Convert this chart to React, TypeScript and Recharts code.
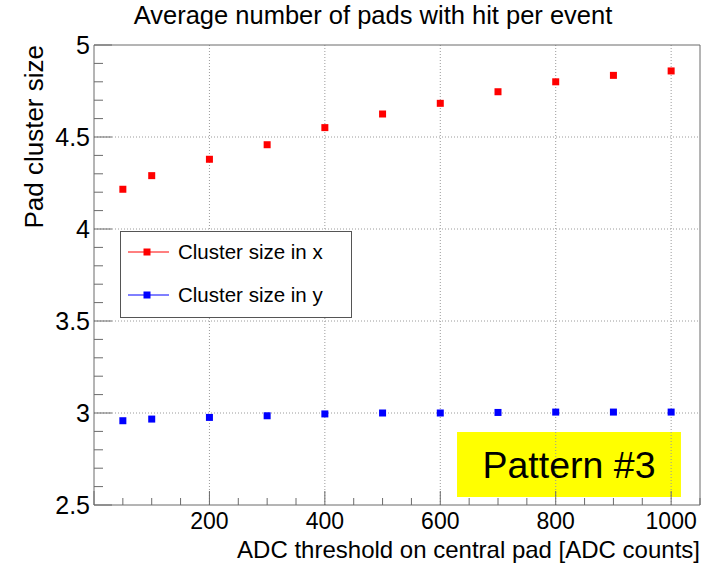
import { ScatterChart, Scatter, XAxis, YAxis, ReferenceLine, ReferenceArea, Legend, Label } from 'recharts'

// ADC threshold on the central pad [ADC counts]
const thresholds = [50, 100, 200, 300, 400, 500, 600, 700, 800, 900, 1000]
// mean pad cluster size along x and y
const clusterSizeX = [4.216, 4.29, 4.379, 4.458, 4.551, 4.625, 4.683, 4.746, 4.8, 4.835, 4.859]
const clusterSizeY = [2.958, 2.967, 2.976, 2.985, 2.995, 3.0, 3.0, 3.003, 3.005, 3.005, 3.005]

const xTicks = [0, 50, 100, 150, 200, 250, 300, 350, 400, 450, 500, 550, 600, 650, 700, 750, 800, 850, 900, 950, 1000, 1050]
const xMajor = [200, 400, 600, 800, 1000]
const yTicks = [2.5, 2.6, 2.7, 2.8, 2.9, 3, 3.1, 3.2, 3.3, 3.4, 3.5, 3.6, 3.7, 3.8, 3.9, 4, 4.1, 4.2, 4.3, 4.4, 4.5, 4.6, 4.7, 4.8, 4.9, 5]
const yMajor = [3, 3.5, 4, 4.5]

const FONT = '"Liberation Sans", Arial, Helvetica, sans-serif'
const AXIS = '#6b6b6b'
const GRID = '#9a9a9a'

const seriesX = thresholds.map((t, i) => ({ threshold: t, size: clusterSizeX[i] }))
const seriesY = thresholds.map((t, i) => ({ threshold: t, size: clusterSizeY[i] }))

const squareMarker = (color: string) => (props: any) => (
  <rect x={props.cx - 3.5} y={props.cy - 3.5} width={7} height={7} fill={color} />
)

function XTick({ x, y, payload }: any) {
  const v = payload.value
  const major = v % 200 === 0
  return (
    <g>
      <line x1={x} y1={y} x2={x} y2={y - (major ? 14 : 7)} stroke={AXIS} />
      {major && v > 0 && (
        <text x={x} y={y + 24} textAnchor="middle" fontSize={23} fontFamily={FONT} fill="#000">
          {v}
        </text>
      )}
    </g>
  )
}

function YTick({ x, y, payload }: any) {
  const v = payload.value
  const major = Math.abs(v * 2 - Math.round(v * 2)) < 1e-6
  return (
    <g>
      <line x1={x} y1={y} x2={x + (major ? 18 : 9)} y2={y} stroke={AXIS} />
      {major && (
        <text x={x - 4} y={y} dy="0.36em" textAnchor="end" fontSize={25} fontFamily={FONT} fill="#000">
          {v}
        </text>
      )}
    </g>
  )
}

function LegendBox({ payload }: any) {
  return (
    <svg width={232} height={87} style={{ display: 'block' }}>
      <rect x={0.5} y={0.5} width={231} height={86} fill="#fff" stroke="#555" />
      {(payload || []).map((entry: any, i: number) => {
        const cy = 21 + i * 43
        return (
          <g key={entry.value}>
            <line x1={8} y1={cy} x2={49} y2={cy} stroke={entry.color} />
            <rect x={23.5} y={cy - 3.5} width={7} height={7} fill={entry.color} />
            <text x={58} y={cy} dy="0.36em" fontSize={20.5} fontFamily={FONT} fill="#000">
              {entry.value}
            </text>
          </g>
        )
      })}
    </svg>
  )
}

export default function App() {
  return (
    <div style={{ position: 'absolute', left: 0, top: 0, width: 717, height: 570, background: '#fff' }}>
      <div
        style={{
          position: 'absolute', left: 0, width: 746, top: 1, textAlign: 'center',
          fontFamily: FONT, fontSize: 25.5, color: '#000', whiteSpace: 'nowrap',
        }}
      >
        Average number of pads with hit per event
      </div>
      <ScatterChart width={717} height={570} margin={{ top: 45, right: 17, bottom: 5, left: 14 }}>
        <XAxis
          type="number"
          dataKey="threshold"
          domain={[0, 1050]}
          ticks={xTicks}
          interval={0}
          height={60}
          tickSize={0}
          tickMargin={0}
          tickLine={false}
          tick={<XTick />}
          axisLine={{ stroke: AXIS }}
          allowDataOverflow
        >
          <Label
            content={({ viewBox }: any) => (
              <text x={viewBox.x + viewBox.width} y={viewBox.y + 53} textAnchor="end" fontSize={24} fontFamily={FONT} fill="#000">
                ADC threshold on central pad [ADC counts]
              </text>
            )}
          />
        </XAxis>
        <YAxis
          type="number"
          dataKey="size"
          domain={[2.5, 5]}
          ticks={yTicks}
          interval={0}
          width={80}
          tickSize={0}
          tickMargin={0}
          tickLine={false}
          tick={<YTick />}
          axisLine={{ stroke: AXIS }}
          allowDataOverflow
        >
          <Label
            content={({ viewBox }: any) => {
              const tx = viewBox.x + 29
              const ty = viewBox.y
              return (
                <text x={tx} y={ty} transform={`rotate(-90 ${tx} ${ty})`} textAnchor="end" fontSize={26} fontFamily={FONT} fill="#000">
                  Pad cluster size
                </text>
              )
            }}
          />
        </YAxis>

        {xMajor.map((v) => (
          <ReferenceLine key={'gx' + v} x={v} stroke={GRID} strokeDasharray="1 2" />
        ))}
        {yMajor.map((v) => (
          <ReferenceLine key={'gy' + v} y={v} stroke={GRID} strokeDasharray="1 2" />
        ))}
        <ReferenceLine y={5} stroke={AXIS} />
        <ReferenceLine x={1050} stroke={AXIS} />

        <ReferenceArea
          x1={629}
          x2={1017}
          y1={2.543}
          y2={2.897}
          fill="#ffff00"
          fillOpacity={1}
          stroke="none"
          label={{ value: 'Pattern #3', position: 'center', fontSize: 37.5, fill: '#000', fontFamily: FONT }}
        />

        <Legend
          layout="vertical"
          align="center"
          verticalAlign="middle"
          content={<LegendBox />}
          wrapperStyle={{ left: 120, top: 231, width: 232, height: 87 }}
        />

        <Scatter
          name="Cluster size in x"
          data={seriesX}
          fill="#ff0000"
          shape={squareMarker('#ff0000')}
          isAnimationActive={false}
        />
        <Scatter
          name="Cluster size in y"
          data={seriesY}
          fill="#0000ff"
          shape={squareMarker('#0000ff')}
          isAnimationActive={false}
        />
      </ScatterChart>
    </div>
  )
}
